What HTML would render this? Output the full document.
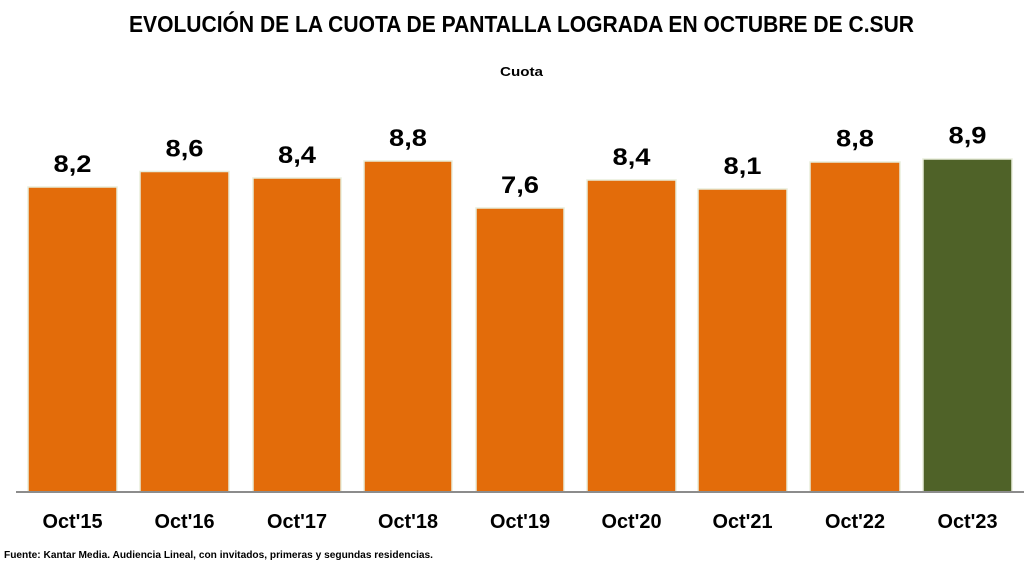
<!DOCTYPE html>
<html>
<head>
<meta charset="utf-8">
<style>
html,body{margin:0;padding:0;background:#fff;}
svg{display:block;}
text{font-family:"Liberation Sans",sans-serif;font-weight:bold;fill:#000;}
</style>
</head>
<body>
<svg width="1024" height="576" viewBox="0 0 1024 576" xmlns="http://www.w3.org/2000/svg">
<rect width="1024" height="576" fill="#fff"/>
<text x="129" y="32" font-size="23" textLength="785" lengthAdjust="spacingAndGlyphs">EVOLUCIÓN DE LA CUOTA DE PANTALLA LOGRADA EN OCTUBRE DE C.SUR</text>
<text x="500" y="76" font-size="13" textLength="43" lengthAdjust="spacingAndGlyphs">Cuota</text>

<g stroke="#e8eddb" stroke-width="1.5">
<rect x="28" y="187" width="89" height="305" fill="#E36C0A"/>
<rect x="140" y="171.5" width="89" height="320.5" fill="#E36C0A"/>
<rect x="253" y="178" width="88" height="314" fill="#E36C0A"/>
<rect x="364" y="161" width="88" height="331" fill="#E36C0A"/>
<rect x="476" y="208" width="88" height="284" fill="#E36C0A"/>
<rect x="587" y="180" width="89" height="312" fill="#E36C0A"/>
<rect x="698" y="189" width="89" height="303" fill="#E36C0A"/>
<rect x="810" y="162" width="90" height="330" fill="#E36C0A"/>
<rect x="923" y="159" width="89" height="333" fill="#4F6228"/>
</g>
<rect x="16" y="491" width="1008" height="2" fill="#8c8c8c"/>

<g font-size="24" text-anchor="middle">
<text x="72.5" y="172" textLength="38" lengthAdjust="spacingAndGlyphs">8,2</text>
<text x="184.5" y="156.5" textLength="38" lengthAdjust="spacingAndGlyphs">8,6</text>
<text x="297" y="163" textLength="38" lengthAdjust="spacingAndGlyphs">8,4</text>
<text x="408" y="146" textLength="38" lengthAdjust="spacingAndGlyphs">8,8</text>
<text x="520" y="193" textLength="38" lengthAdjust="spacingAndGlyphs">7,6</text>
<text x="631.5" y="165" textLength="38" lengthAdjust="spacingAndGlyphs">8,4</text>
<text x="742.5" y="174" textLength="38" lengthAdjust="spacingAndGlyphs">8,1</text>
<text x="855" y="146.5" textLength="38" lengthAdjust="spacingAndGlyphs">8,8</text>
<text x="967.5" y="143.5" textLength="38" lengthAdjust="spacingAndGlyphs">8,9</text>
</g>

<g font-size="20" text-anchor="middle">
<text x="72.5" y="528" textLength="60" lengthAdjust="spacingAndGlyphs">Oct'15</text>
<text x="184.5" y="528" textLength="60" lengthAdjust="spacingAndGlyphs">Oct'16</text>
<text x="297" y="528" textLength="60" lengthAdjust="spacingAndGlyphs">Oct'17</text>
<text x="408" y="528" textLength="60" lengthAdjust="spacingAndGlyphs">Oct'18</text>
<text x="520" y="528" textLength="60" lengthAdjust="spacingAndGlyphs">Oct'19</text>
<text x="631.5" y="528" textLength="60" lengthAdjust="spacingAndGlyphs">Oct'20</text>
<text x="742.5" y="528" textLength="60" lengthAdjust="spacingAndGlyphs">Oct'21</text>
<text x="855" y="528" textLength="60" lengthAdjust="spacingAndGlyphs">Oct'22</text>
<text x="967.5" y="528" textLength="60" lengthAdjust="spacingAndGlyphs">Oct'23</text>
</g>

<text x="4" y="558" font-size="10" textLength="429" lengthAdjust="spacingAndGlyphs">Fuente: Kantar Media. Audiencia Lineal, con invitados, primeras y segundas residencias.</text>
</svg>
</body>
</html>
